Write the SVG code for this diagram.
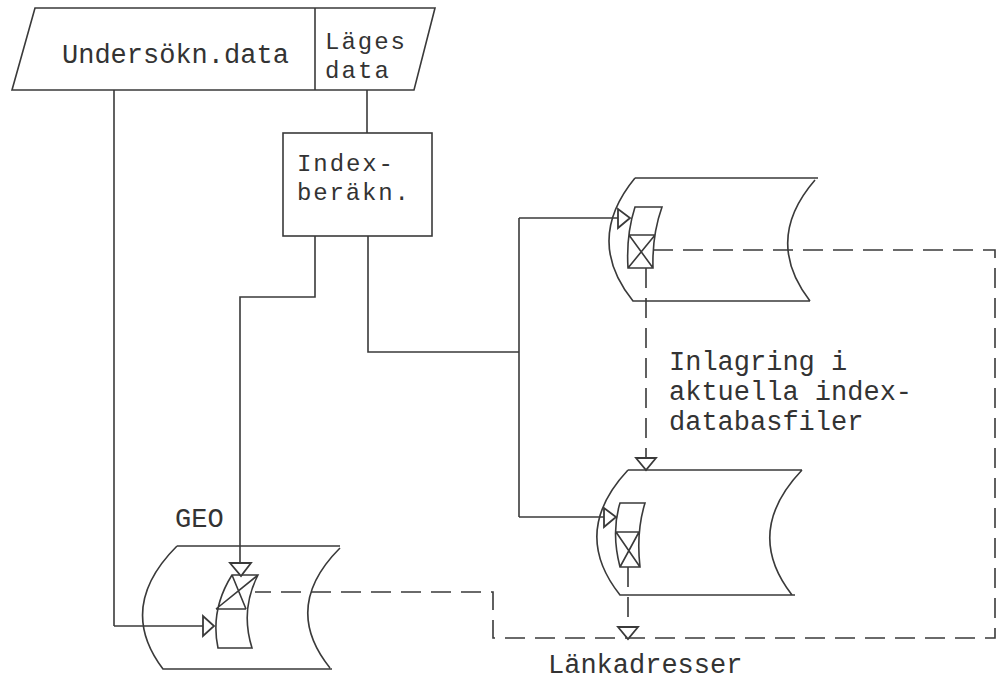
<svg xmlns="http://www.w3.org/2000/svg" width="997" height="681" viewBox="0 0 997 681">
<style>
.s{fill:none;stroke:#3a3a3a;stroke-width:1.6;stroke-linejoin:miter}
.d{fill:none;stroke:#3a3a3a;stroke-width:1.6;stroke-dasharray:20 10}
.a{fill:#fff;stroke:#3a3a3a;stroke-width:1.8}
.t{font-family:"Liberation Mono","DejaVu Sans Mono",monospace;font-size:27px;fill:#333}
.t2{font-family:"Liberation Mono","DejaVu Sans Mono",monospace;font-size:24px;fill:#333}
</style>
<rect width="997" height="681" fill="#fff"/>
<g id="input">
<path class="s" d="M35,8 L435,8 L414,90 L12,90 Z"/>
<line class="s" x1="315" y1="8" x2="315" y2="90"/>
<text class="t" x="62" y="63">Undersökn.data</text>
<text class="t2" x="325" y="49" textLength="80" lengthAdjust="spacing">Läges</text>
<text class="t2" x="325" y="78" textLength="64" lengthAdjust="spacing">data</text>
</g>
<g id="index">
<rect class="s" x="283" y="133" width="149" height="103"/>
<text class="t2" x="297" y="171" textLength="96" lengthAdjust="spacing">Index-</text>
<text class="t2" x="297" y="200" textLength="112" lengthAdjust="spacing">beräkn.</text>
</g>
<g id="db-upper">
<path class="s" d="M635,178 L818,178 M635,178 Q584,240 633,301 L810,301 M815,180 Q763,240 810,301"/>
<path class="s" d="M635,207 L662,207 Q652,235 653,268 L628,268 Q626,235 635,207 Z M629,235 L655,235 M629,235 L653,268 M655,235 L628,268"/>
</g>
<g id="db-lower">
<path class="s" d="M628,470 L802,470 M628,470 Q570,532 620,595 L795,595 M802,470 Q743,532 792,595"/>
<path class="s" d="M620,503 L645,503 Q636,532 640,567 L620,567 Q611,532 620,503 Z M616,532 L639,532 M616,532 L640,567 M639,532 L620,567"/>
</g>
<g id="geo">
<path class="s" d="M177,546 L340,546 M177,546 Q116,607 163,669 L332,669 M340,548 Q281,607 330,668"/>
<path class="s" d="M232,575 L258,575 Q240,610 252,648 L218,648 Q210,610 232,575 Z M216,609 L246,609 M232,575 L246,609 M258,575 L216,609"/>
<text class="t" x="175" y="527">GEO</text>
</g>
<g id="labels">
<text class="t" x="669" y="370">Inlagring i</text>
<text class="t" x="669" y="400">aktuella index-</text>
<text class="t" x="669" y="430">databasfiler</text>
<text class="t" x="548" y="673">Länkadresser</text>
</g>
<g id="connectors">
<line class="s" x1="114" y1="90" x2="114" y2="626"/>
<line class="s" x1="114" y1="626" x2="203" y2="626"/>
<polygon class="a" points="203,616 203,636 214,626"/>
<line class="s" x1="367" y1="90" x2="367" y2="133"/>
<polyline class="s" points="315,236 315,297 240,297 240,563"/>
<polygon class="a" points="230,563 251,563 241,576"/>
<polyline class="s" points="368,236 368,352 519,352"/>
<line class="s" x1="519" y1="218" x2="519" y2="517"/>
<line class="s" x1="519" y1="218" x2="618" y2="218"/>
<polygon class="a" points="618,209 618,228 630,218"/>
<line class="s" x1="519" y1="517" x2="604" y2="517"/>
<polygon class="a" points="604,508 604,527 616,517"/>
<polyline class="d" points="653,250 995,250 995,638 493,638 493,592 255,592"/>
<line class="d" x1="646" y1="268" x2="646" y2="458"/>
<polygon class="a" points="636,458 656,458 646,470"/>
<line class="d" x1="628" y1="567" x2="628" y2="627"/>
<polygon class="a" points="618,627 638,627 628,639"/>
</g>
</svg>
